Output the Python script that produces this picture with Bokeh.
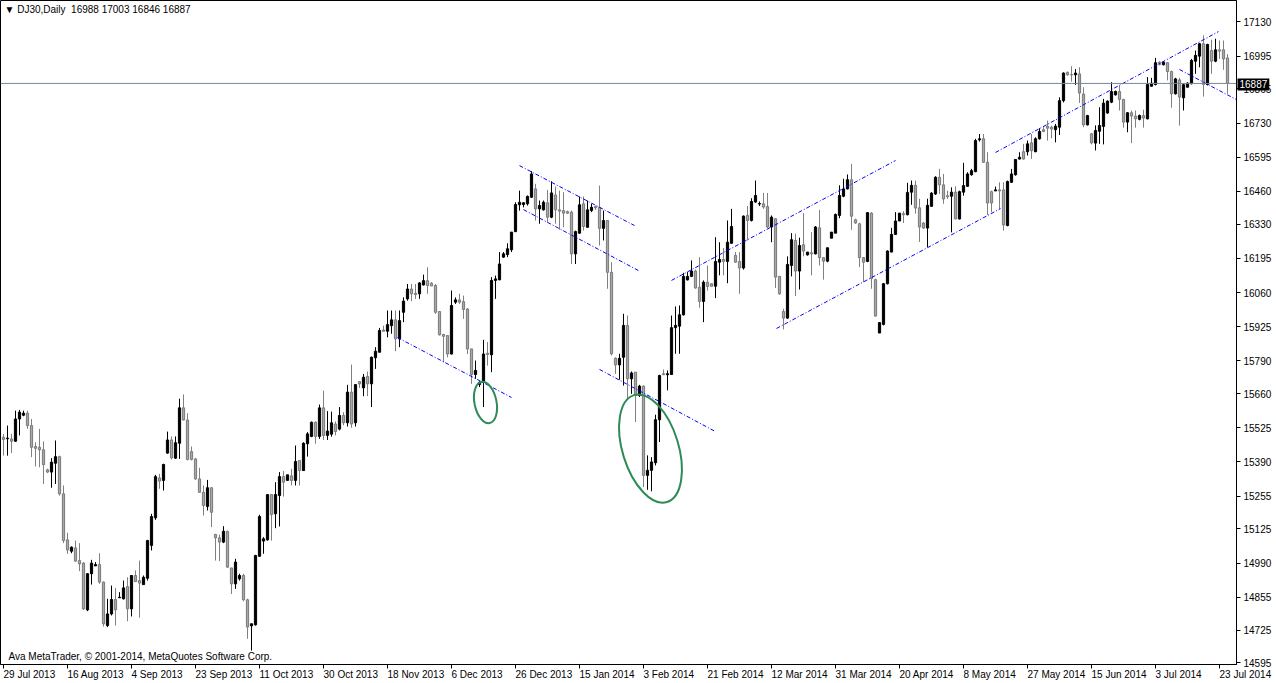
from bokeh.plotting import figure
from bokeh.models import ColumnDataSource, FixedTicker, Label, Span
from bokeh.embed import file_html
from bokeh.resources import INLINE

# ---- daily OHLC, DJ30 (bar 0 = 29 Jul 2013) ----
open_ = [15488,15482,15481,15472,15560,15575,15583,15534,15451,15448,15438,15359,15350,15385,15411,15264,15082,15037,15050,15000,
         14990,14805,14948,14979,14984,14915,14743,14789,14846,14853,14849,14897,14809,14941,14921,14905,14930,15060,15169,15327,
         15317,15425,15477,15405,15464,15604,15556,15431,15402,15323,15270,15214,15288,15103,15090,15073,15115,14971,14908,14928,
         14941,14845,14742,14746,15017,15077,15082,15261,15185,15257,15332,15317,15335,15317,15396,15356,15462,15491,15547,15491,
         15604,15495,15500,15540,15520,15574,15545,15666,15545,15708,15683,15728,15699,15802,15824,15912,15907,15929,15952,15877,
         15982,16035,16074,16057,16055,16090,16107,16097,16088,15985,15894,15890,15817,16022,16031,16024,15995,15837,15736,15696,
         15705,15820,15814,16108,16110,16200,16210,16229,16301,16407,16408,16411,16437,16470,16391,16387,16415,16358,16446,16387,
         16384,16380,16378,16213,16295,16411,16318,16384,16400,16397,16314,16345,16140,15800,15774,15804,15930,15719,15745,15653,
         15690,15337,15357,15387,15557,15739,15735,15736,15921,15927,15972,16110,16124,16145,16081,16025,16101,16095,16085,16180,
         16191,16183,16255,16207,16183,16157,16365,16345,16418,16410,16411,16400,16319,16352,16124,15985,15959,16167,16266,16145,
         16249,16209,16217,16213,16316,16198,16184,16275,16295,16365,16441,16470,16506,16348,16332,16198,16183,16374,16111,15900,
         15934,16095,16220,16290,16343,16372,16368,16457,16484,16395,16335,16315,16401,16450,16516,16486,16443,16441,16457,16351,
         16457,16480,16526,16538,16664,16668,16575,16459,16462,16466,16466,16325,16496,16526,16588,16617,16617,16652,16617,16668,
         16704,16718,16714,16704,16714,16819,16931,16922,16921,16925,16845,16723,16688,16651,16698,16717,16770,16813,16842,16855,
         16824,16734,16771,16758,16745,16760,16747,16876,16883,16971,16961,16969,16934,16846,16901,16830,16872,16886,16975,16995,
         17044,16883,17017,16975,17020,17020,16988]
high = [15501,15534,15501,15593,15596,15593,15593,15560,15468,15521,15471,15363,15405,15475,15415,15297,15110,15056,15079,15069,
        14994,14950,15003,14994,15029,14917,14849,14901,14892,14875,14921,14934,14941,14961,15000,14941,15082,15185,15339,15343,
        15383,15510,15491,15491,15640,15657,15583,15451,15406,15367,15297,15319,15290,15106,15103,15136,15119,14971,15007,14948,
        14948,14849,14750,15023,15181,15093,15261,15261,15310,15350,15354,15339,15363,15455,15396,15468,15508,15550,15551,15617,
        15672,15591,15589,15550,15607,15587,15695,15775,15696,15708,15738,15748,15807,15844,15920,15929,15989,15989,15989,15989,
        16041,16094,16094,16094,16101,16131,16160,16101,16094,15985,15897,15890,16068,16041,16055,16048,15999,15837,15791,15709,
        15873,15864,16121,16127,16220,16220,16255,16299,16417,16463,16417,16444,16540,16490,16424,16424,16466,16500,16479,16463,
        16457,16384,16384,16305,16440,16440,16424,16411,16404,16483,16384,16347,16180,15804,15818,15976,15969,15748,15745,15695,
        15693,15416,15409,15577,15735,15756,15752,15969,16005,16009,16138,16141,16187,16151,16200,16108,16167,16095,16279,16259,
        16236,16345,16391,16220,16220,16365,16402,16433,16503,16420,16454,16454,16365,16354,16124,15996,16203,16295,16293,16277,
        16374,16220,16299,16323,16387,16200,16237,16299,16372,16484,16510,16527,16569,16352,16336,16200,16378,16378,16115,15943,
        16098,16227,16316,16378,16374,16382,16494,16503,16503,16431,16339,16431,16457,16520,16549,16529,16463,16476,16480,16463,
        16573,16536,16549,16668,16687,16687,16615,16463,16479,16496,16496,16503,16549,16588,16615,16648,16661,16687,16674,16710,
        16714,16740,16720,16727,16832,16931,16934,16955,16944,16951,16872,16763,16691,16721,16793,16826,16820,16892,16859,16879,
        16826,16774,16780,16780,16764,16783,16912,16909,16988,16975,16975,16971,16938,16909,16909,16886,16892,16984,17017,17046,
        17077,17044,17060,17064,17057,17057,17003]
low = [15415,15415,15425,15470,15495,15571,15521,15409,15372,15369,15303,15346,15288,15303,15257,15069,15027,15029,14994,14958,
       14805,14800,14905,14979,14908,14739,14737,14783,14743,14853,14846,14760,14779,14915,14774,14905,14921,15040,15161,15284,
       15277,15422,15400,15402,15402,15554,15396,15396,15319,15268,15178,15198,15132,15000,14998,15069,14971,14868,14888,14921,
       14839,14691,14644,14743,15016,15027,15079,15079,15128,15135,15253,15317,15297,15297,15297,15356,15411,15488,15462,15481,
       15477,15477,15490,15495,15515,15535,15530,15525,15530,15683,15650,15650,15607,15758,15824,15907,15883,15897,15828,15844,
       15943,16028,16026,16035,16035,16088,16055,16086,15976,15890,15784,15804,15815,16015,16015,15956,15817,15699,15719,15686,
       15607,15771,15745,16035,16110,16197,16200,16220,16299,16384,16397,16404,16434,16345,16332,16384,16338,16354,16332,16308,
       16318,16371,16173,16173,16292,16305,16318,16378,16387,16246,16266,16075,15811,15738,15715,15692,15640,15659,15548,15647,
       15291,15280,15274,15376,15469,15735,15673,15736,15818,15818,15969,16108,16121,16075,16000,15943,16068,16085,16038,16128,
       16128,16097,16253,16178,16055,16151,16266,16341,16415,16402,16391,16315,16259,16078,16051,15914,15956,16124,16046,16072,
       16203,16206,16128,16211,16167,16111,16180,16275,16295,16354,16437,16468,16308,16332,16161,16101,16180,16075,15966,15900,
       15930,16092,16220,16290,16343,16335,16365,16407,16372,16260,16312,16240,16401,16446,16450,16411,16430,16298,16351,16349,
       16443,16480,16522,16536,16657,16573,16367,16378,16462,16391,16305,16322,16494,16522,16586,16586,16602,16588,16615,16665,
       16694,16661,16670,16654,16683,16812,16918,16894,16881,16810,16714,16721,16646,16622,16648,16646,16767,16809,16839,16780,
       16712,16694,16651,16712,16741,16712,16745,16875,16879,16958,16958,16899,16791,16843,16720,16780,16872,16883,16925,16951,
       16835,16879,16925,16971,16984,16941,16846]
close = [15479,15484,15472,15560,15587,15583,15534,15448,15444,15438,15379,15350,15389,15411,15264,15079,15042,15053,14998,14987,
         14809,14948,14990,14984,14915,14750,14789,14846,14805,14855,14892,14809,14941,14917,14911,14934,15079,15174,15332,15314,
         15380,15477,15406,15466,15604,15556,15400,15400,15323,15270,15218,15288,15191,15090,15073,15116,14974,14908,14994,14941,
         14845,14737,14750,15020,15174,15086,15261,15182,15261,15332,15310,15339,15317,15392,15356,15464,15501,15547,15491,15604,
         15495,15512,15545,15510,15574,15545,15666,15540,15696,15699,15725,15699,15804,15828,15910,15907,15933,15952,15877,15949,
         16026,16074,16055,16052,16098,16107,16088,16086,15982,15893,15887,15817,16009,16031,16022,15993,15837,15736,15752,15705,
         15817,15815,16108,16114,16173,16213,16233,16299,16408,16417,16415,16440,16529,16391,16404,16417,16358,16454,16387,16382,
         16374,16374,16213,16301,16407,16321,16387,16397,16395,16314,16345,16140,15818,15774,15800,15930,15719,15742,15653,15690,
         15337,15357,15390,15557,15732,15735,15739,15921,15930,15972,16124,16124,16145,16078,16025,16101,16084,16085,16183,16191,
         16183,16259,16321,16180,16157,16362,16345,16420,16444,16412,16398,16319,16358,16121,16055,15959,16171,16269,16145,16246,
         16224,16220,16213,16319,16198,16184,16237,16299,16369,16444,16470,16506,16362,16335,16198,16180,16376,16115,15967,15941,
         16095,16224,16290,16343,16374,16368,16456,16484,16394,16319,16315,16405,16453,16516,16486,16430,16439,16457,16351,16459,
         16483,16529,16542,16661,16668,16575,16414,16414,16466,16462,16327,16499,16529,16586,16595,16588,16648,16621,16668,16697,
         16697,16710,16707,16718,16819,16928,16921,16921,16928,16849,16723,16760,16652,16701,16721,16809,16817,16855,16855,16824,
         16734,16771,16758,16747,16760,16750,16883,16888,16969,16962,16971,16934,16846,16905,16833,16882,16888,16978,16998,17044,
         16883,17041,16975,17020,17015,16984,16887]

# ---- axes ----
date_tick_bars = [0, 16, 32, 48, 64, 80, 96, 112, 128, 144, 160, 176, 192, 208, 224, 240, 256, 272, 288, 304]
date_labels = ["29 Jul 2013", "16 Aug 2013", "4 Sep 2013", "23 Sep 2013", "11 Oct 2013", "30 Oct 2013",
               "18 Nov 2013", "6 Dec 2013", "26 Dec 2013", "15 Jan 2014", "3 Feb 2014", "21 Feb 2014",
               "12 Mar 2014", "31 Mar 2014", "20 Apr 2014", "8 May 2014", "27 May 2014", "15 Jun 2014",
               "3 Jul 2014", "23 Jul 2014"]
price_ticks = [14595, 14725, 14855, 14990, 15125, 15255, 15390, 15525, 15660, 15790, 15925,
               16060, 16195, 16330, 16460, 16595, 16730, 16865, 16995, 17130]
last_price = 16887
header_text = "\u25bc DJ30,Daily\u00a0\u00a016988 17003 16846 16887"
copyright_text = "Ava MetaTrader, \u00a9 2001-2014, MetaQuotes Software Corp."

# ---- hand-drawn objects (bar index, price) ----
trend_x0 = [98.5, 129, 130, 149, 167, 193.25, 248, 294]
trend_y0 = [15882, 16562, 16388, 15756, 16108, 15918, 16614, 16942]
trend_x1 = [127, 157.75, 158.75, 178, 223, 249.25, 303.75, 308.25]
trend_y1 = [15645, 16325, 16147, 15510, 16582, 16392, 17092, 16823]
ellipse_x = [120.5, 161.75]
ellipse_y = [15625, 15443]
ellipse_w = [22, 56]
ellipse_h = [42, 112]
ellipse_angle = [0.2, 0.3]

FONT = "Liberation Sans"
X0, X1 = -0.75, 308.25
Y0, Y1 = 14589, 17215

n = len(open_)
idx = list(range(n))
up = [c >= o for o, c in zip(open_, close)]
src = ColumnDataSource(dict(
    x=idx, o=open_, h=high, l=low, c=close,
    top=[max(o, c) for o, c in zip(open_, close)],
    bot=[min(o, c) for o, c in zip(open_, close)],
    wick=["#000000" if u else "#808080" for u in up],
    fill=["#000000" if u else "#a8a8a8" for u in up],
    edge=["#000000" if u else "#7a7a7a" for u in up],
))

p = figure(frame_width=1236, frame_height=664, output_backend="svg", toolbar_location=None,
           x_range=(X0, X1), y_range=(Y0, Y1),
           y_axis_location="right", min_border_left=0, min_border_top=0,
           min_border_right=0, min_border_bottom=0)
p.background_fill_color = "white"
p.border_fill_color = "white"
p.outline_line_color = "black"
p.outline_line_width = 1
p.xgrid.visible = False
p.ygrid.visible = False

# date axis: MetaTrader writes each date to the right of its tick
p.xaxis.ticker = FixedTicker(ticks=date_tick_bars)
p.xaxis.major_label_overrides = {b: s for b, s in zip(date_tick_bars, date_labels)}
p.xaxis.major_label_orientation = -0.0001
p.xaxis.major_label_standoff = 6

p.yaxis.ticker = FixedTicker(ticks=price_ticks)
p.yaxis.major_label_overrides = {v: str(v) for v in price_ticks}
p.yaxis.major_label_standoff = 3
for ax in (p.xaxis, p.yaxis):
    ax.axis_line_color = "black"
    ax.major_tick_line_color = "black"
    ax.major_tick_in = 0
    ax.major_tick_out = 4
    ax.minor_tick_line_color = None
    ax.major_label_text_font = FONT
    ax.major_label_text_font_size = "10px"
    ax.major_label_text_color = "black"

# bid line
p.add_layout(Span(location=last_price, dimension="width", line_color="#778899", line_width=1))

# candles
p.segment(x0="x", y0="h", x1="x", y1="l", source=src, line_color="wick", line_width=1)
p.vbar(x="x", top="top", bottom="bot", width=0.55, source=src,
       fill_color="fill", line_color="edge", line_width=1)

# trend lines
p.segment(x0=trend_x0, y0=trend_y0, x1=trend_x1, y1=trend_y1,
          line_color="#0000ff", line_width=1, line_dash="4 2 1 2")

# ellipses
p.ellipse(x=ellipse_x, y=ellipse_y, width=ellipse_w, height=ellipse_h,
          width_units="screen", height_units="screen", angle=ellipse_angle,
          fill_alpha=0, line_color="#2e8b57", line_width=2)

# texts
p.add_layout(Label(x=X0, y=Y1, x_offset=4, y_offset=-3, text=header_text, text_font=FONT,
                   text_font_size="10px", text_color="black", text_baseline="top"))
p.add_layout(Label(x=X0, y=Y0, x_offset=8, y_offset=3, text=copyright_text, text_font=FONT,
                   text_font_size="10px", text_color="black", text_baseline="bottom"))
# current-price tag on the price scale (placed in the side panel so it is not clipped)
p.add_layout(Label(x=1237, x_units="canvas", y=last_price, y_offset=-1, text=str(last_price), text_font=FONT,
                   text_font_size="10px", text_color="white", text_baseline="middle",
                   background_fill_color="black", padding=2), "right")

open("out.html", "w").write(file_html(p, INLINE))
